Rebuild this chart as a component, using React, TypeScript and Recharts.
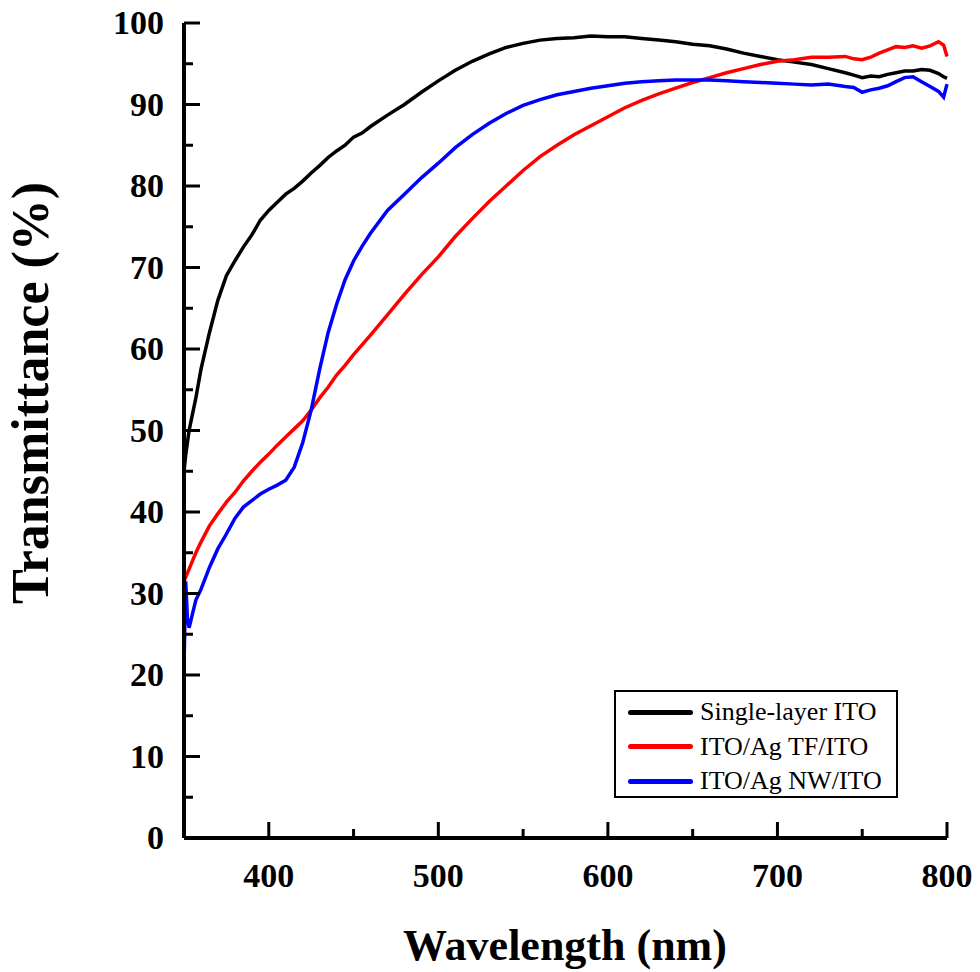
import { LineChart, Line, XAxis, YAxis, Legend } from 'recharts'

// transmittance spectra
const wavelength = [
  350, 351, 352, 353, 355, 357, 360, 365, 370, 375, 380, 385, 390, 395, 400, 405, 410, 415, 420, 425,
  430, 435, 440, 445, 450, 455, 460, 470, 480, 490, 500, 510, 520, 530, 540, 550, 560, 570, 580, 590,
  600, 610, 620, 630, 640, 650, 660, 670, 680, 690, 700, 710, 720, 730, 740, 745, 750, 755, 760, 765,
  770, 775, 780, 785, 790, 795, 798, 800,
]
const singleLayerIto = [
  45, 47, 48.5, 50, 52, 54, 57.5, 62, 66, 69, 70.8, 72.5, 74, 75.8, 77, 78, 79, 79.7, 80.6, 81.6,
  82.5, 83.5, 84.3, 85, 86, 86.5, 87.3, 88.7, 90, 91.5, 92.9, 94.2, 95.3, 96.2, 97, 97.5, 97.9, 98.1, 98.2, 98.4,
  98.3, 98.3, 98.1, 97.9, 97.7, 97.4, 97.2, 96.8, 96.3, 95.9, 95.5, 95.2, 94.9, 94.4, 93.9, 93.6, 93.3, 93.5, 93.4, 93.7,
  93.9, 94.1, 94.1, 94.3, 94.2, 93.8, 93.4, 93.2,
]
const agTfIto = [
  31.5, 32, 32.5, 33, 34, 35, 36.3, 38.3, 39.8, 41.2, 42.4, 43.8, 45, 46.1, 47.1, 48.2, 49.2, 50.2, 51.2, 52.5,
  54, 55.3, 56.8, 58, 59.3, 60.5, 61.7, 64.2, 66.7, 69.1, 71.3, 73.8, 76, 78.1, 80, 81.9, 83.6, 85, 86.3, 87.4,
  88.5, 89.6, 90.5, 91.3, 92, 92.7, 93.3, 93.9, 94.4, 94.9, 95.3, 95.5, 95.8, 95.8, 95.9, 95.6, 95.5, 95.8, 96.3, 96.7,
  97.1, 97, 97.2, 96.9, 97.2, 97.7, 97.3, 95.9,
]
const agNwIto = [
  21, 31.5, 27, 25.8, 27.5, 29.2, 30.5, 33.2, 35.5, 37.3, 39.2, 40.6, 41.4, 42.2, 42.8, 43.3, 43.9, 45.5, 48.5, 52.5,
  57.5, 62, 65.5, 68.5, 70.8, 72.6, 74.2, 77, 79, 81, 82.8, 84.7, 86.3, 87.7, 88.9, 89.9, 90.6, 91.2, 91.6, 92,
  92.3, 92.6, 92.8, 92.9, 93, 93, 93, 92.9, 92.8, 92.7, 92.6, 92.5, 92.4, 92.5, 92.2, 92.1, 91.5, 91.8, 92, 92.3,
  92.8, 93.3, 93.4, 92.8, 92.2, 91.6, 90.9, 92.5,
]

const xTicks = [400, 450, 500, 550, 600, 650, 700, 750, 800]
const yTicks = [0, 5, 10, 15, 20, 25, 30, 35, 40, 45, 50, 55, 60, 65, 70, 75, 80, 85, 90, 95, 100]

const data = wavelength.map((w, i) => ({
  w,
  single: singleLayerIto[i],
  tf: agTfIto[i],
  nw: agNwIto[i],
}))

const series = [
  { key: 'single', name: 'Single-layer ITO', color: '#000000' },
  { key: 'tf', name: 'ITO/Ag TF/ITO', color: '#ff0000' },
  { key: 'nw', name: 'ITO/Ag NW/ITO', color: '#0000ff' },
]

const font = '"Liberation Serif", "Times New Roman", serif'

function BottomTick({ x, y, payload }: any) {
  const v = payload.value
  const major = v % 100 === 0
  return (
    <g>
      <line x1={x} y1={y} x2={x} y2={y - (major ? 16 : 9)} stroke="#000" strokeWidth={3} />
      {major && (
        <text x={x} y={y + 49} textAnchor="middle" fontFamily={font} fontWeight="bold" fontSize={34} fill="#000">
          {v}
        </text>
      )}
    </g>
  )
}

function LeftTick({ x, y, payload }: any) {
  const v = payload.value
  const major = v % 10 === 0
  return (
    <g>
      <line x1={x} y1={y} x2={x + (major ? 16 : 9)} y2={y} stroke="#000" strokeWidth={3} />
      {major && (
        <text x={x - 20} y={y + 11} textAnchor="end" fontFamily={font} fontWeight="bold" fontSize={34} fill="#000">
          {v}
        </text>
      )}
    </g>
  )
}

function TopTick({ x, y }: any) {
  return <line x1={x} y1={y} x2={x} y2={y + 4} stroke="#000" strokeWidth={2} />
}

function RightTick({ x, y }: any) {
  return <line x1={x} y1={y} x2={x - 5} y2={y} stroke="#000" strokeWidth={2} />
}

function LegendBox() {
  return (
    <div
      style={{
        border: '2px solid #000',
        width: 280,
        height: 104,
        boxSizing: 'content-box',
        background: '#fff',
        fontFamily: font,
        fontSize: 26,
        color: '#000',
      }}
    >
      {series.map((s, i) => (
        <div key={s.key} style={{ position: 'absolute', left: 14, top: 6 + i * 34.5, height: 32, display: 'flex', alignItems: 'center' }}>
          <div style={{ width: 65, height: 5, borderRadius: 3, background: s.color, marginRight: 7 }} />
          <span style={{ lineHeight: '32px', whiteSpace: 'nowrap' }}>{s.name}</span>
        </div>
      ))}
    </div>
  )
}

export default function App() {
  return (
    <div style={{ position: 'absolute', left: 0, top: 0, width: 980, height: 972, background: '#fff' }}>
      <LineChart width={980} height={972} data={data} margin={{ top: 23, right: 33, left: 0, bottom: 0 }}>
        <XAxis
          dataKey="w"
          type="number"
          domain={[350, 800]}
          ticks={xTicks}
          interval={0}
          height={134}
          tickSize={0}
          tickMargin={0}
          tickLine={false}
          axisLine={{ stroke: '#000', strokeWidth: 4 }}
          tick={BottomTick}
          label={() => (
            <text x={565} y={960} textAnchor="middle" fontFamily={font} fontWeight="bold" fontSize={44} fill="#000">
              Wavelength (nm)
            </text>
          )}
        />
        <XAxis
          xAxisId="top"
          orientation="top"
          dataKey="w"
          type="number"
          domain={[350, 800]}
          ticks={xTicks}
          interval={0}
          height={0}
          tickSize={0}
          tickMargin={0}
          tickLine={false}
          axisLine={{ stroke: '#000', strokeWidth: 3 }}
          tick={TopTick}
        />
        <YAxis
          type="number"
          domain={[0, 100]}
          ticks={yTicks}
          interval={0}
          width={184}
          tickSize={0}
          tickMargin={0}
          tickLine={false}
          axisLine={{ stroke: '#000', strokeWidth: 4 }}
          tick={LeftTick}
          label={() => (
            <text
              transform="translate(48, 393) rotate(-90)"
              textAnchor="middle"
              fontFamily={font}
              fontWeight="bold"
              fontSize={52}
              fill="#000"
            >
              Transmittance (%)
            </text>
          )}
        />
        <YAxis
          yAxisId="right"
          orientation="right"
          type="number"
          domain={[0, 100]}
          ticks={yTicks}
          interval={0}
          width={0}
          tickSize={0}
          tickMargin={0}
          tickLine={false}
          axisLine={{ stroke: '#000', strokeWidth: 4 }}
          tick={RightTick}
        />
        {series.map((s) => (
          <Line
            key={s.key}
            type="linear"
            dataKey={s.key}
            name={s.name}
            stroke={s.color}
            strokeWidth={3.5}
            dot={false}
            isAnimationActive={false}
          />
        ))}
        <Legend
          layout="vertical"
          align="center"
          verticalAlign="middle"
          content={() => <LegendBox />}
          wrapperStyle={{ left: 614, top: 690, width: 284, height: 108 }}
        />
      </LineChart>
    </div>
  )
}
